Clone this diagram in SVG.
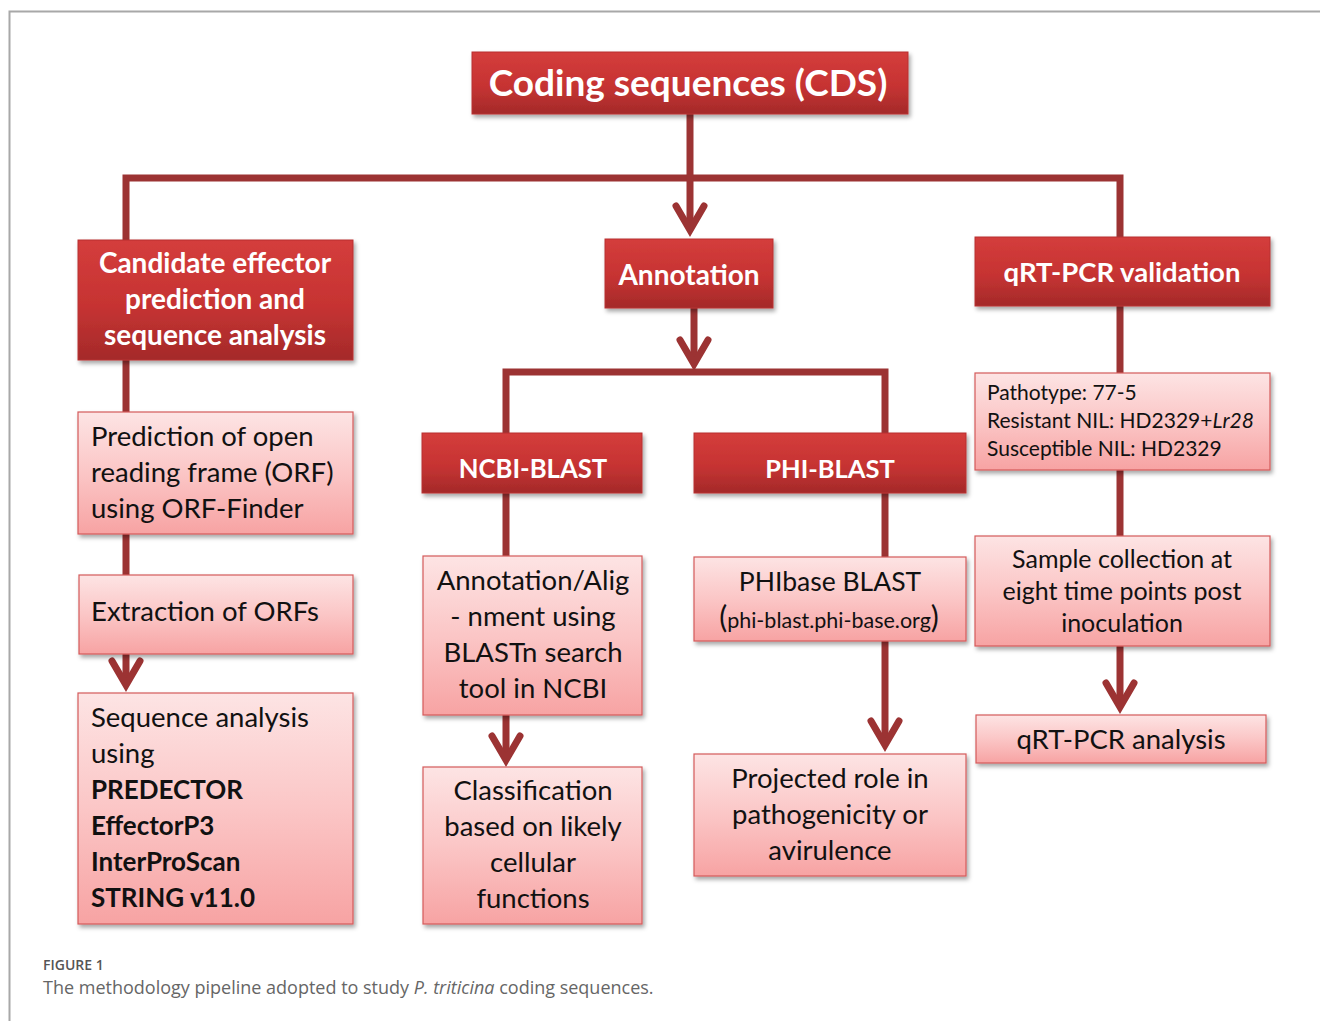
<svg xmlns="http://www.w3.org/2000/svg" width="1320" height="1021" viewBox="0 0 1320 1021">
<defs>
<linearGradient id="gDark" x1="0" y1="0" x2="0" y2="1">
<stop offset="0" stop-color="#d43d3c"/>
<stop offset="0.55" stop-color="#c63332"/>
<stop offset="1" stop-color="#a42a2a"/>
</linearGradient>
<linearGradient id="gLight" x1="0" y1="0" x2="0" y2="1">
<stop offset="0" stop-color="#fde4e4"/>
<stop offset="0.5" stop-color="#fbc6c6"/>
<stop offset="1" stop-color="#f7a3a3"/>
</linearGradient>
<filter id="shadow" x="-10%" y="-10%" width="125%" height="130%">
<feDropShadow dx="2" dy="3" stdDeviation="2" flood-color="#000" flood-opacity="0.35"/>
</filter>
<marker id="chev" markerUnits="userSpaceOnUse" viewBox="-34 -22 44 44" markerWidth="44" markerHeight="44" refX="0" refY="0" orient="auto" overflow="visible">
<path d="M-24 -14 L0 0 L-24 14" fill="none" stroke="#9c3333" stroke-width="7" stroke-linecap="round" stroke-linejoin="miter"/>
</marker>
</defs>
<style>
.dark{fill:url(#gDark);stroke:#b83030;stroke-width:1;filter:url(#shadow)}
.light{fill:url(#gLight);stroke:#d45a5a;stroke-width:1.2;filter:url(#shadow)}
.wt{font-family:Lato,"Open Sans",sans-serif;font-weight:700;fill:#fff;text-anchor:middle}
.bt{font-family:Lato,"Open Sans",sans-serif;fill:#111}
.s275{font-size:27.5px}
.s26{font-size:26px}
.s25{font-size:25px}
.s21{font-size:21px}
.c{text-anchor:middle}
.b{font-weight:700}
.conn{fill:none;stroke:#9c3333;stroke-width:7}
.arr{marker-end:url(#chev)}
.cap{font-family:"Open Sans","Liberation Sans",sans-serif}
</style>
<rect width="1320" height="1021" fill="#fff"/>
<path d="M9.5 1021 V11.5 H1320" fill="none" stroke="#a8a8a8" stroke-width="2"/>

<g id="connectors">
<path class="conn" d="M126 240 V178 H1120 V237"/>
<path class="conn arr" d="M690 114 V230"/>
<path class="conn arr" d="M694 308 V364"/>
<path class="conn" d="M506 433 V372 H885 V433"/>
<path class="conn" d="M126 360 V412"/>
<path class="conn" d="M126 534 V575"/>
<path class="conn arr" d="M126 654 V685"/>
<path class="conn" d="M506 493 V556"/>
<path class="conn arr" d="M506 715 V760"/>
<path class="conn" d="M885 493 V557"/>
<path class="conn arr" d="M885 641 V745"/>
<path class="conn" d="M1120 306 V373"/>
<path class="conn" d="M1120 470 V536"/>
<path class="conn arr" d="M1120 646 V707"/>
</g>

<g id="cds">
<rect class="dark" x="472" y="52" width="436" height="62"/>
<text class="wt" x="688" y="96" font-size="37">Coding sequences (CDS)</text>
</g>

<g id="candidate">
<rect class="dark" x="78" y="240" width="275" height="120"/>
<text class="wt" x="215" y="273" font-size="28">Candidate effector</text>
<text class="wt" x="215" y="309" font-size="28">prediction and</text>
<text class="wt" x="215" y="345" font-size="28">sequence analysis</text>
</g>

<g id="annotation">
<rect class="dark" x="605" y="239" width="168" height="69"/>
<text class="wt" x="689" y="285" font-size="28">Annotation</text>
</g>

<g id="qrtpcr-validation">
<rect class="dark" x="975" y="237" width="295" height="69"/>
<text class="wt" x="1122" y="282" font-size="27.5">qRT-PCR validation</text>
</g>

<g id="ncbi-blast">
<rect class="dark" x="422" y="433" width="220" height="60"/>
<text class="wt" x="533" y="478" font-size="25.7">NCBI-BLAST</text>
</g>

<g id="phi-blast">
<rect class="dark" x="694" y="433" width="272" height="60"/>
<text class="wt" x="830" y="478" font-size="25.5">PHI-BLAST</text>
</g>

<g id="orf-prediction">
<rect class="light" x="78" y="412" width="275" height="122"/>
<text class="bt s275" x="91" y="446">Prediction of open</text>
<text class="bt s275" x="91" y="482">reading frame (ORF)</text>
<text class="bt s275" x="91" y="518">using ORF-Finder</text>
</g>

<g id="orf-extraction">
<rect class="light" x="79" y="575" width="274" height="79"/>
<text class="bt s275" x="91" y="621">Extraction of ORFs</text>
</g>

<g id="sequence-analysis">
<rect class="light" x="78" y="693" width="275" height="231"/>
<text class="bt s275" x="91" y="727">Sequence analysis</text>
<text class="bt s275" x="91" y="763">using</text>
<text class="bt s26 b" x="91" y="799">PREDECTOR</text>
<text class="bt s26 b" x="91" y="835">EffectorP3</text>
<text class="bt s26 b" x="91" y="871">InterProScan</text>
<text class="bt s26 b" x="91" y="907">STRING v11.0</text>
</g>

<g id="ncbi-alignment">
<rect class="light" x="423" y="556" width="219" height="159"/>
<text class="bt s275 c" x="533" y="590">Annotation/Alig</text>
<text class="bt s275 c" x="533" y="626">- nment using</text>
<text class="bt s275 c" x="533" y="662">BLASTn search</text>
<text class="bt s275 c" x="533" y="698">tool in NCBI</text>
</g>

<g id="classification">
<rect class="light" x="423" y="767" width="219" height="157"/>
<text class="bt s275 c" x="533" y="800">Classification</text>
<text class="bt s275 c" x="533" y="836">based on likely</text>
<text class="bt s275 c" x="533" y="872">cellular</text>
<text class="bt s275 c" x="533" y="908">functions</text>
</g>

<g id="phibase-blast">
<rect class="light" x="694" y="557" width="272" height="84"/>
<text class="bt c" x="830" y="591" style="font-size:26.5px">PHIbase BLAST</text>
<text class="bt c" x="829" y="628" style="font-size:21.5px"><tspan style="font-size:30px">(</tspan>phi-blast.phi-base.org<tspan style="font-size:30px">)</tspan></text>
</g>

<g id="projected-role">
<rect class="light" x="694" y="754" width="272" height="122"/>
<text class="bt s275 c" x="830" y="788">Projected role in</text>
<text class="bt s275 c" x="830" y="824">pathogenicity or</text>
<text class="bt s275 c" x="830" y="860">avirulence</text>
</g>

<g id="pathotype">
<rect class="light" x="975" y="373" width="295" height="97"/>
<text class="bt s21" x="987" y="400">Pathotype: 77-5</text>
<text class="bt s21" x="987" y="428">Resistant NIL: HD2329+<tspan font-style="italic">Lr28</tspan></text>
<text class="bt s21" x="987" y="456">Susceptible NIL: HD2329</text>
</g>

<g id="sample-collection">
<rect class="light" x="975" y="536" width="295" height="110"/>
<text class="bt s25 c" x="1122" y="568">Sample collection at</text>
<text class="bt s25 c" x="1122" y="600">eight time points post</text>
<text class="bt s25 c" x="1122" y="632">inoculation</text>
</g>

<g id="qrtpcr-analysis">
<rect class="light" x="976" y="715" width="290" height="48"/>
<text class="bt s275 c" x="1121" y="749">qRT-PCR analysis</text>
</g>

<g id="caption">
<text class="cap" x="43" y="970" font-size="14" font-weight="600" fill="#555">FIGURE 1</text>
<text class="cap" x="43" y="994" font-size="18" fill="#666">The methodology pipeline adopted to study <tspan font-style="italic">P. triticina</tspan> coding sequences.</text>
</g>
</svg>
